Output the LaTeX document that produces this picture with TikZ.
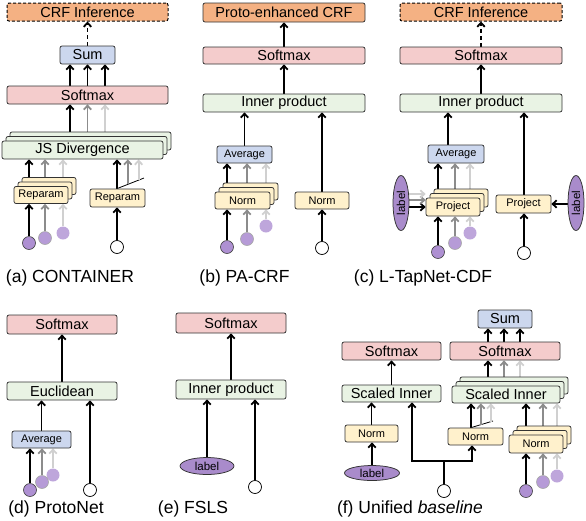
\documentclass[tikz,border=0pt]{standalone}
\usepackage{fontspec}
\setmainfont{Liberation Sans}
\usepackage{tikz}
\usetikzlibrary{shapes.geometric, arrows.meta, shadows, calc, backgrounds}
\definecolor{crf}{HTML}{F4B183}
\definecolor{soft}{HTML}{F4CCCC}
\definecolor{sum}{HTML}{CCD7EE}
\definecolor{inner}{HTML}{E9F3E4}
\definecolor{norm}{HTML}{FFF1CC}
\definecolor{boxline}{HTML}{333333}
\definecolor{ballfill}{HTML}{AE90D2}
\definecolor{labfill}{HTML}{A98BCB}
\definecolor{midgray}{HTML}{8C8C8C}
\definecolor{palegray}{HTML}{D0D0D0}
\tikzstyle{box} = [rectangle, rounded corners=2pt, draw=boxline, line width=0.75pt, inner sep=0pt, font=\fontsize{14.5}{16}\selectfont]
\tikzstyle{dashbox} = [draw=black, line width=1pt, dash pattern=on 3pt off 2pt]
\tikzstyle{small} = [font=\fontsize{11}{12}\selectfont]
\tikzstyle{stack} = [double copy shadow={shadow xshift=4pt, shadow yshift=4.5pt}]
\tikzstyle{ball} = [circle, minimum size=13pt, inner sep=0pt, fill=ballfill]
\tikzstyle{ball1} = [ball, draw=black!75, line width=0.6pt]
\tikzstyle{ball2} = [ball, draw=black!35, line width=0.6pt, fill=ballfill!90]
\tikzstyle{ball3} = [ball, fill=ballfill!80]
\tikzstyle{query} = [circle, minimum size=13pt, inner sep=0pt, fill=white, draw=black, line width=0.75pt]
\tikzstyle{lab} = [ellipse, fill=labfill, draw=boxline, line width=0.75pt, inner sep=0pt, font=\fontsize{11.5}{12}\selectfont]
\tikzstyle{arrow} = [line width=1.8pt, -{Straight Barb[length=4pt,width=7.5pt]}]
\tikzstyle{arrowg} = [arrow, draw=midgray]
\tikzstyle{arrowl} = [arrow, draw=palegray]
\tikzstyle{dasharrow} = [arrow, dash pattern=on 4pt off 3pt]
\tikzstyle{fork} = [line width=0.8pt]
\tikzstyle{caption} = [anchor=base, font=\fontsize{17.5}{20}\selectfont]

\begin{document}
\begin{tikzpicture}[x=1pt, y=-1pt]
\useasboundingbox (0,0) rectangle (586,520);

% (a) CONTAINER
\node (crfA) [box, fill=crf, dashbox, minimum width=161pt, minimum height=18pt] at (87.5,12) {CRF Inference};
\node (sumA) [box, fill=sum, minimum width=55pt, minimum height=18pt] at (87.5,55) {Sum};
\node (smA) [box, fill=soft, minimum width=161pt, minimum height=18pt] at (87.5,95) {Softmax};
\node (jsA) [box, stack, fill=inner, minimum width=161pt, minimum height=18pt] at (82.5,150) {JS Divergence};
\node (rpA) [box, small, stack, fill=norm, minimum width=54pt, minimum height=17pt] at (41,195) {Reparam};
\node (rpB) [box, small, fill=norm, minimum width=55pt, minimum height=18pt] at (117.5,198) {Reparam};
\node (a3) [ball3] at (63,233) {};
\node (a2) [ball2] at (45,238) {};
\node (a1) [ball1] at (29,243) {};
\node (aq) [query] at (117,247) {};
\coordinate (tA) at (144,178);
\node (capA) [caption] at (70,282) {(a) CONTAINER};

% (b) PA-CRF
\node (peB) [box, fill=crf, minimum width=162pt, minimum height=19pt] at (284,12.5) {Proto-enhanced CRF};
\node (smB) [box, fill=soft, minimum width=162pt, minimum height=17pt] at (284,55.5) {Softmax};
\node (ipB) [box, fill=inner, minimum width=162pt, minimum height=18pt] at (284,103) {Inner product};
\node (avB) [box, small, fill=sum, minimum width=55pt, minimum height=17pt] at (244.5,154.5) {Average};
\node (nmB) [box, small, stack, fill=norm, minimum width=55pt, minimum height=17pt] at (242.5,200.5) {Norm};
\node (nmC) [box, small, fill=norm, minimum width=54pt, minimum height=17pt] at (322,200.5) {Norm};
\node (b3) [ball3] at (266,226) {};
\node (b2) [ball2] at (247,239) {};
\node (b1) [ball1] at (227,247) {};
\node (bq) [query] at (322,248) {};
\node (capB) [caption] at (244.5,282) {(b) PA-CRF};

% (c) L-TapNet-CDF
\node (crfC) [box, fill=crf, dashbox, minimum width=162pt, minimum height=18pt] at (481,12) {CRF Inference};
\node (smC) [box, fill=soft, minimum width=162pt, minimum height=17pt] at (481,55.5) {Softmax};
\node (ipC) [box, fill=inner, minimum width=162pt, minimum height=18pt] at (481,103) {Inner product};
\node (avC) [box, small, fill=sum, minimum width=56pt, minimum height=18pt] at (456,154) {Average};
\node (prC) [box, small, stack, fill=norm, minimum width=54pt, minimum height=18pt] at (453,207) {Project};
\node (prD) [box, small, fill=norm, minimum width=55pt, minimum height=18pt] at (523.5,204) {Project};
\node (lbC) [lab, rotate=90, minimum width=55pt, minimum height=16pt] at (401,203) {label};
\node (lbD) [lab, rotate=90, minimum width=55pt, minimum height=16pt] at (576,203) {label};
\node (c3) [ball3] at (470,233) {};
\node (c2) [ball2] at (455,243) {};
\node (c1) [ball1] at (438,252) {};
\node (cq) [query] at (524,253) {};
\node (capC) [caption] at (423,282) {(c) L-TapNet-CDF};

% (d) ProtoNet
\node (smD) [box, fill=soft, minimum width=110pt, minimum height=19pt] at (62,324.5) {Softmax};
\node (euD) [box, fill=inner, minimum width=110pt, minimum height=18pt] at (62,391) {Euclidean};
\node (avD) [box, small, fill=sum, minimum width=59pt, minimum height=17pt] at (41.5,439.5) {Average};
\node (d3) [ball3] at (53,475) {};
\node (d2) [ball2] at (42,482) {};
\node (d1) [ball1] at (30,490) {};
\node (dq) [query] at (90,490) {};
\node (capD) [caption] at (56,513) {(d) ProtoNet};

% (e) FSLS
\node (smE) [box, fill=soft, minimum width=110pt, minimum height=20pt] at (231,323) {Softmax};
\node (ipE) [box, fill=inner, minimum width=110pt, minimum height=19pt] at (231,389.5) {Inner product};
\node (lbE) [lab, minimum width=54pt, minimum height=17pt] at (207,466) {label};
\node (eq) [query] at (255,487) {};
\node (capE) [caption] at (193,513) {(e) FSLS};

% (f) Unified baseline
\node (sumF) [box, fill=sum, minimum width=54pt, minimum height=18pt] at (505,319) {Sum};
\node (smF) [box, fill=soft, minimum width=110pt, minimum height=18pt] at (505,351) {Softmax};
\node (smG) [box, fill=soft, minimum width=99pt, minimum height=18pt] at (391.5,351) {Softmax};
\node (siG) [box, fill=inner, minimum width=99pt, minimum height=17pt] at (391.5,393.5) {Scaled Inner};
\node (nmG) [box, small, fill=norm, minimum width=53pt, minimum height=17pt] at (371.5,433.5) {Norm};
\node (lbF) [lab, minimum width=55pt, minimum height=15pt] at (372,473) {label};
\node (siF) [box, stack, fill=inner, minimum width=108pt, minimum height=17pt] at (506,394.5) {Scaled Inner};
\node (nmF) [box, small, fill=norm, minimum width=55pt, minimum height=17pt] at (475.5,436.5) {Norm};
\node (nmH) [box, small, stack, fill=norm, minimum width=54pt, minimum height=18pt] at (536,444) {Norm};
\node (f3) [ball3] at (557,476) {};
\node (f2) [ball2] at (543,482) {};
\node (f1) [ball1] at (526,491) {};
\node (fq) [query] at (444,491) {};
\coordinate (jF) at (444,461);
\coordinate (tF) at (493,421);
\node (capF) [caption] at (410,513) {(f) Unified \textit{baseline}};

\begin{scope}[on background layer]
% (a)
\draw [dasharrow] (sumA) -- (crfA);
\foreach \x in {70,87.5,105}
  \draw [arrow] (smA.north -| \x,0) -- (sumA.south -| \x,0);
\foreach \x/\s in {70/arrow,87.5/arrowg,105/arrowl}
  \draw [\s] (jsA.north -| \x,0) -- (smA.south -| \x,0);
\foreach \b/\s in {a1/arrow,a2/arrowg,a3/arrowl} {
  \draw [\s] (\b) -- (\b |- rpA.south);
  \draw [\s] (\b |- rpA.north) -- (\b |- jsA.south);
}
\draw [arrow] (aq) -- (aq |- rpB.south);
\draw [arrow] (aq |- rpB.north) -- (aq |- jsA.south);
\draw [fork] (aq |- rpB.north) -- (tA);
\coordinate (gA) at ($(aq |- rpB.north)!0.4!(tA)$);
\coordinate (lA) at ($(aq |- rpB.north)!0.8!(tA)$);
\draw [arrowg] (gA) -- (gA |- jsA.south);
\draw [arrowl] (lA) -- (lA |- jsA.south);

% (b)
\draw [arrow] (smB) -- (peB);
\draw [arrow] (ipB) -- (smB);
\draw [arrow] (avB) -- (avB |- ipB.south);
\foreach \b/\s in {b1/arrow,b2/arrowg,b3/arrowl} {
  \draw [\s] (\b) -- (\b |- nmB.south);
  \draw [\s] (\b |- nmB.north) -- (\b |- avB.south);
}
\draw [arrow] (bq) -- (nmC);
\draw [arrow] (nmC) -- (nmC |- ipB.south);

% (c)
\draw [dasharrow] (smC) -- (crfC);
\draw [arrow] (ipC) -- (smC);
\draw [arrow] ([xshift=-8pt]avC.north) -- ([xshift=-8pt]avC.north |- ipC.south);
\foreach \b/\s in {c1/arrow,c2/arrowg,c3/arrowl} {
  \draw [\s] (\b) -- (\b |- prC.south);
  \draw [\s] (\b |- prC.north) -- (\b |- avC.south);
}
\foreach \y/\s in {207/arrow,200/arrowg,194/arrowl}
  \draw [\s] (lbC.center |- 0,\y) -- (prC.west |- 0,\y);
\draw [arrow] (cq) -- (cq |- prD.south);
\draw [arrow] (cq |- prD.north) -- (cq |- ipC.south);
\draw [arrow] (lbD.center |- prD.east) -- (prD.east);

% (d)
\draw [arrow] (euD) -- (smD);
\draw [arrow] (avD) -- (avD |- euD.south);
\foreach \b/\s in {d1/arrow,d2/arrowg,d3/arrowl}
  \draw [\s] (\b) -- (\b |- avD.south);
\draw [arrow] (dq) -- (dq |- euD.south);

% (e)
\draw [arrow] (ipE) -- (smE);
\draw [arrow] (lbE) -- (lbE |- ipE.south);
\draw [arrow] (eq) -- (eq |- ipE.south);

% (f)
\foreach \x in {488,504,520}
  \draw [arrow] (smF.north -| \x,0) -- (sumF.south -| \x,0);
\foreach \x/\s in {488/arrow,504/arrowg,520/arrowl}
  \draw [\s] (siF.north -| \x,0) -- (smF.south -| \x,0);
\draw [arrow] (siG) -- (siG |- smG.south);
\draw [arrow] (nmG) -- (nmG |- siG.south);
\draw [arrow] (lbF) -- (lbF |- nmG.south);
\coordinate (nF) at (nmF.north -| 471,0);
\draw [arrow] (nF) -- (nF |- siF.south);
\draw [fork] (nF) -- (tF);
\coordinate (gF) at ($(nF)!0.45!(tF)$);
\coordinate (lF) at ($(nF)!0.9!(tF)$);
\draw [arrowg] (gF) -- (gF |- siF.south);
\draw [arrowl] (lF) -- (lF |- siF.south);
\foreach \b/\s in {f1/arrow,f2/arrowg,f3/arrowl} {
  \draw [\s] (\b) -- (\b |- nmH.south);
  \draw [\s] (\b |- nmH.north) -- (\b |- siF.south);
}
\draw [line width=1.8pt] (fq) -- (jF);
\draw [arrow] (jF) -| (siG.south -| 412,0);
\draw [arrow] (jF) -| (nmF.south -| 472,0);
\end{scope}
\end{tikzpicture}
\end{document}
